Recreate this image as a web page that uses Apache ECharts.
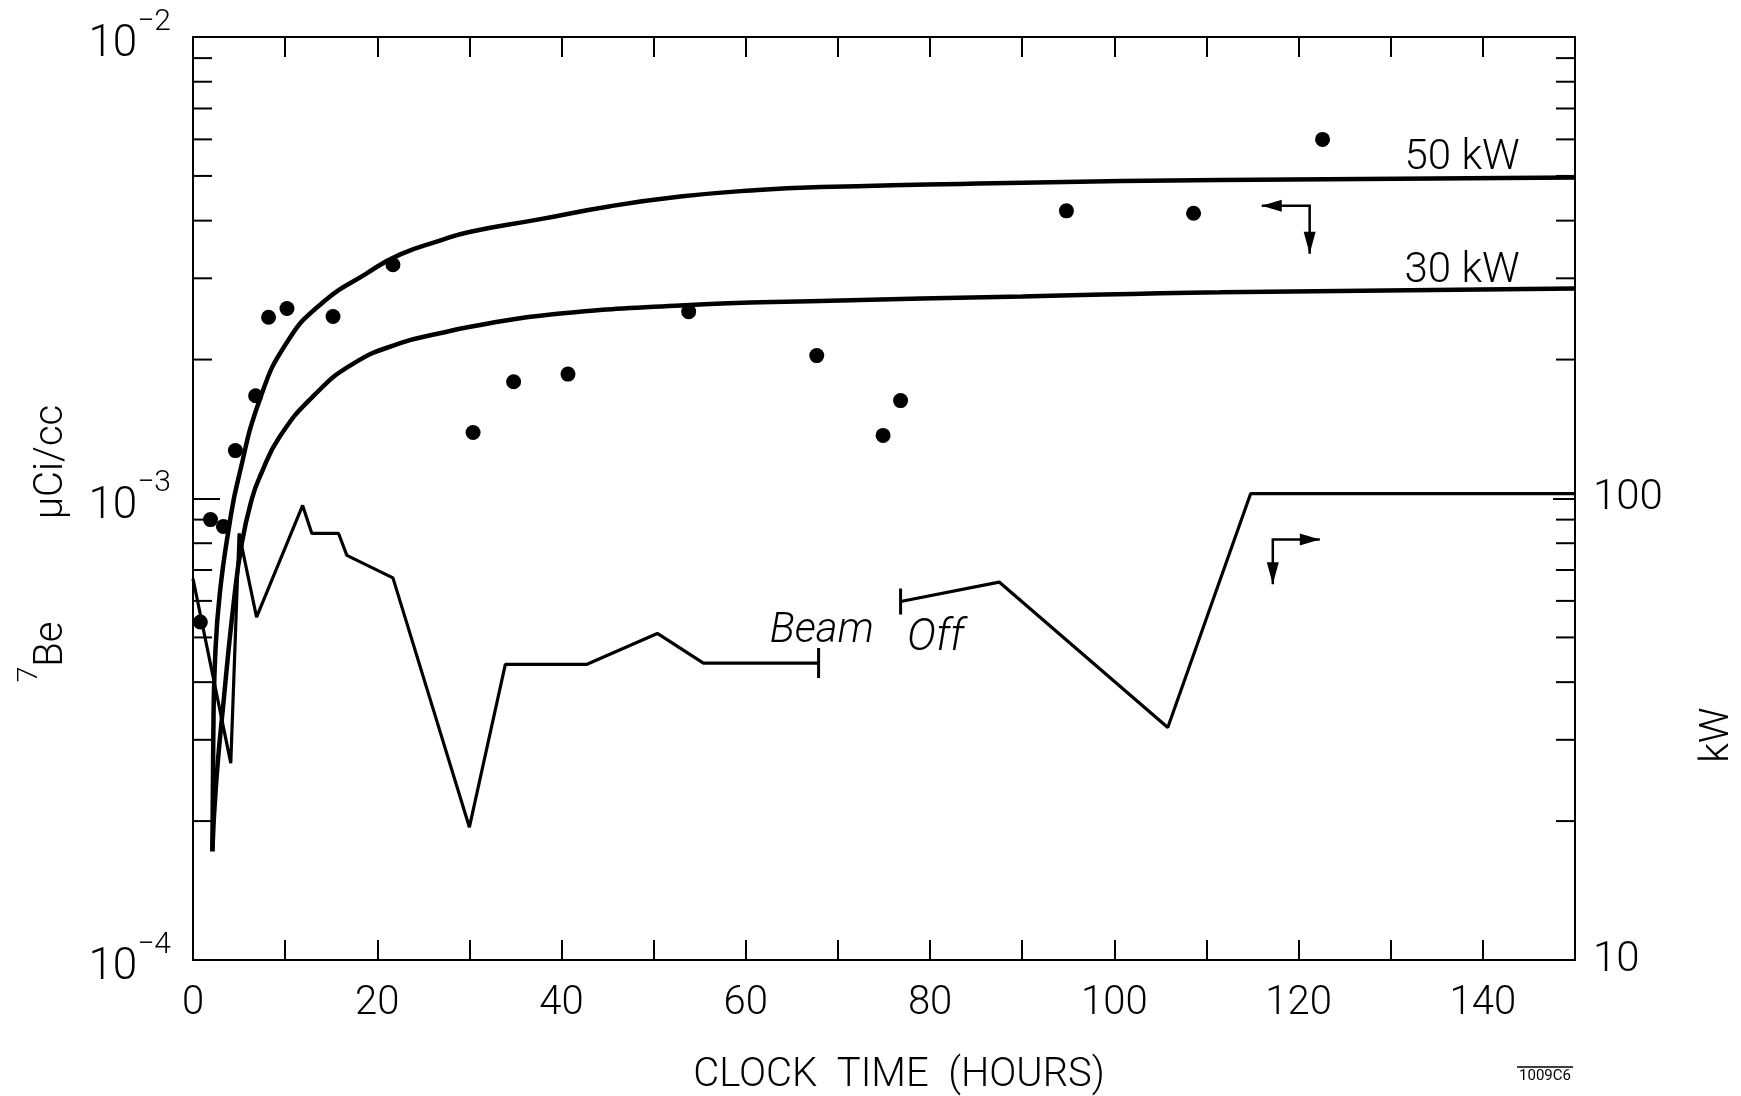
<!DOCTYPE html>
<html><head><meta charset="utf-8">
<script src="https://cdn.jsdelivr.net/npm/echarts@6/dist/echarts.min.js"></script>
<style>html,body{margin:0;padding:0;background:#fff}#c{width:1741px;height:1096px}</style>
</head><body><div id="c"></div>
<script>
// ---- data ----
const scatterHours = [0.8, 1.9, 3.3, 4.6, 6.8, 8.2, 10.2, 15.2, 21.7, 30.4, 34.8, 40.7, 53.8, 67.7, 74.9, 76.8, 94.8, 108.6, 122.6];
const scatterBe7   = [5.4e-4, 9.0e-4, 8.7e-4, 1.27e-3, 1.67e-3, 2.47e-3, 2.58e-3, 2.48e-3, 3.21e-3, 1.39e-3, 1.79e-3, 1.86e-3, 2.54e-3, 2.04e-3, 1.37e-3, 1.63e-3, 4.2e-3, 4.15e-3, 6.0e-3];

const curve50Hours = [2.1, 2.2, 2.4, 2.9, 4.0, 4.9, 7.3, 10.2, 13.8, 18.9, 22.5, 26.8, 30.0, 37.7, 45.3, 52.9, 60.5, 68.1, 90, 111.5, 150];
const curve50Be7   = [1.72e-4, 3.0e-4, 4.5e-4, 6.2e-4, 8.9e-4, 1.10e-3, 1.65e-3, 2.18e-3, 2.63e-3, 3.08e-3, 3.38e-3, 3.62e-3, 3.78e-3, 4.03e-3, 4.30e-3, 4.51e-3, 4.65e-3, 4.73e-3, 4.83e-3, 4.90e-3, 4.96e-3];

const curve30Hours = [2.1, 2.5, 3.3, 4.4, 5.3, 6.4, 7.3, 9.4, 13.1, 17.4, 22.5, 26.8, 30.1, 37.7, 52.9, 68.1, 90, 111.5, 150];
const curve30Be7   = [1.72e-4, 2.4e-4, 3.6e-4, 5.9e-4, 8.0e-4, 1.0e-3, 1.12e-3, 1.36e-3, 1.67e-3, 1.96e-3, 2.17e-3, 2.28e-3, 2.355e-3, 2.49e-3, 2.62e-3, 2.68e-3, 2.74e-3, 2.80e-3, 2.85e-3];

const beamHoursA = [0, 4.1, 5.0, 6.9, 11.9, 12.9, 15.8, 16.7, 21.7, 30.0, 33.9, 42.7, 50.4, 55.4, 67.9];
const beamKwA    = [67, 26.7, 84, 55.3, 96.6, 84, 84, 75.3, 67.3, 19.4, 43.7, 43.7, 51, 44, 44];
const beamHoursB = [76.8, 87.5, 105.8, 114.8, 150];
const beamKwB    = [59.8, 65.9, 31.9, 102.5, 102.5];

const xTickLabels = [0, 20, 40, 60, 80, 100, 120, 140];
const leftMinorTicks = [2e-4,3e-4,4e-4,5e-4,6e-4,7e-4,8e-4,9e-4,2e-3,3e-3,4e-3,5e-3,6e-3,7e-3,8e-3,9e-3];
const rightMinorTicks = [20,30,40,50,60,70,80,90,200,300,400,500,600,700,800,900];

// ---- chart ----
const FONT = 'Roboto';
const chart = echarts.init(document.getElementById('c'), null, {renderer: 'canvas'});

const axisLineStyle = {color: '#000', width: 2};

function zip(a, b) { return a.map((v, i) => [v, b[i]]); }

function tickSeries(values, yIdx, xAt, dir, len) {
  return {
    type: 'custom', xAxisIndex: 0, yAxisIndex: yIdx, silent: true, clip: false, z: 5,
    data: values.map(v => [xAt, v]),
    renderItem: function (params, api) {
      const p = api.coord([api.value(0), api.value(1)]);
      return {type: 'line', shape: {x1: p[0], y1: p[1], x2: p[0] + dir * len, y2: p[1]},
              style: {stroke: '#000', lineWidth: 2}};
    }
  };
}

const beamA = beamHoursA.map((h, i) => i === beamHoursA.length - 1
  ? {value: [h, beamKwA[i]], symbol: 'rect', symbolSize: [3, 30]}
  : {value: [h, beamKwA[i]], symbol: 'none'});
const beamB = beamHoursB.map((h, i) => i === 0
  ? {value: [h, beamKwB[i]], symbol: 'rect', symbolSize: [3, 26]}
  : {value: [h, beamKwB[i]], symbol: 'none'});

chart.setOption({
  animation: false,
  backgroundColor: '#fff',
  grid: {left: 193, right: 166, top: 37, bottom: 136, containLabel: false},
  xAxis: [{
    type: 'value', min: 0, max: 150, interval: 10, position: 'bottom',
    axisLine: {show: true, onZero: false, lineStyle: axisLineStyle},
    axisTick: {show: true, inside: true, length: 20, lineStyle: {color: '#000', width: 2}},
    axisLabel: {
      color: '#000', fontFamily: FONT, fontWeight: 300, fontSize: 40, margin: 24,
      formatter: v => xTickLabels.indexOf(v) >= 0 ? String(v) : ''
    },
    splitLine: {show: false}
  }, {
    type: 'value', min: 0, max: 150, interval: 10, position: 'top',
    axisLine: {show: true, onZero: false, lineStyle: axisLineStyle},
    axisTick: {show: true, inside: true, length: 20, lineStyle: {color: '#000', width: 2}},
    axisLabel: {show: false}, splitLine: {show: false}
  }],
  yAxis: [{
    type: 'log', logBase: 10, min: 1e-4, max: 1e-2, position: 'left',
    axisLine: {show: true, onZero: false, lineStyle: axisLineStyle},
    axisTick: {show: true, inside: true, length: 27, lineStyle: {color: '#000', width: 2}},
    axisLabel: {
      color: '#000', margin: 22, fontFamily: FONT, fontWeight: 300,
      formatter: v => '{b|10}{s|\u2212' + Math.round(-Math.log10(v)) + '}',
      rich: {
        b: {fontFamily: FONT, fontWeight: 300, fontSize: 44, lineHeight: 60, color: '#000', verticalAlign: 'bottom'},
        s: {fontFamily: FONT, fontWeight: 300, fontSize: 30, lineHeight: 30, color: '#000', verticalAlign: 'top'}
      }
    },
    splitLine: {show: false}
  }, {
    type: 'log', logBase: 10, min: 10, max: 1000, position: 'right',
    axisLine: {show: true, onZero: false, lineStyle: axisLineStyle},
    axisTick: {show: true, inside: true, length: 22, lineStyle: {color: '#000', width: 2}},
    axisLabel: {
      color: '#000', margin: 18, fontFamily: FONT, fontWeight: 300, fontSize: 42,
      formatter: v => v >= 999 ? '' : String(Math.round(v))
    },
    splitLine: {show: false}
  }],
  series: [
    {
      name: '50 kW', type: 'line', xAxisIndex: 0, yAxisIndex: 0,
      data: zip(curve50Hours, curve50Be7), smooth: 0.5,
      symbol: 'none', lineStyle: {color: '#000', width: 4.5}, z: 3
    },
    {
      name: '30 kW', type: 'line', xAxisIndex: 0, yAxisIndex: 0,
      data: zip(curve30Hours, curve30Be7), smooth: 0.5,
      symbol: 'none', lineStyle: {color: '#000', width: 4.5}, z: 3
    },
    {
      name: 'beam A', type: 'line', xAxisIndex: 0, yAxisIndex: 1,
      data: beamA, showAllSymbol: true, symbol: 'none',
      itemStyle: {color: '#000', opacity: 1}, lineStyle: {color: '#000', width: 3.2}, z: 3
    },
    {
      name: 'beam B', type: 'line', xAxisIndex: 0, yAxisIndex: 1,
      data: beamB, showAllSymbol: true, symbol: 'none',
      itemStyle: {color: '#000', opacity: 1}, lineStyle: {color: '#000', width: 3.2}, z: 3
    },
    {
      name: '7Be', type: 'scatter', xAxisIndex: 0, yAxisIndex: 0,
      data: zip(scatterHours, scatterBe7), symbol: 'circle', symbolSize: 15,
      itemStyle: {color: '#000', opacity: 1}, z: 4
    },
    tickSeries(leftMinorTicks, 0, 0, 1, 19),
    tickSeries(rightMinorTicks, 1, 150, -1, 19)
  ]
});

// ---- annotations (positioned through the chart's own scales) ----
function P(yIdx, t, v) { return chart.convertToPixel({xAxisIndex: 0, yAxisIndex: yIdx}, [t, v]); }

function arrowHead(tip, from, len, half) {
  const dx = tip[0] - from[0], dy = tip[1] - from[1];
  const d = Math.hypot(dx, dy), ux = dx / d, uy = dy / d;
  const bx = tip[0] - ux * len, by = tip[1] - uy * len;
  return {type: 'polygon', shape: {points: [tip, [bx - uy * half, by + ux * half], [bx + uy * half, by - ux * half]]},
          style: {fill: '#000'}, z: 10};
}

const g = [];
// arrow pointing to left axis
{
  const c = P(0, 121.2, 4.31e-3), l = P(0, 116.0, 4.31e-3), d = P(0, 121.2, 3.39e-3);
  g.push({type: 'polyline', shape: {points: [l, c, d]}, style: {stroke: '#000', lineWidth: 2.5, fill: null}, z: 10});
  g.push(arrowHead(l, c, 20, 6));
  g.push(arrowHead(d, c, 22, 6));
}
// arrow pointing to right axis
{
  const c = P(1, 117.2, 81.5), r = P(1, 122.3, 81.5), d = P(1, 117.2, 65.2);
  g.push({type: 'polyline', shape: {points: [d, c, r]}, style: {stroke: '#000', lineWidth: 2.5, fill: null}, z: 10});
  g.push(arrowHead(r, c, 20, 6));
  g.push(arrowHead(d, c, 22, 6));
}
function txt(text, x, y, size, extra) {
  return Object.assign({type: 'text', x: x, y: y, z: 10,
    style: Object.assign({text: text, fill: '#000', font: '300 ' + size + 'px ' + FONT, align: 'left', verticalAlign: 'middle'}, extra || {})});
}
const l50 = P(0, 131.5, 5.45e-3);
const l30 = P(0, 131.5, 3.1e-3);
g.push(txt('50 kW', l50[0], l50[1], 42));
g.push(txt('30 kW', l30[0], l30[1], 42));
const pBeam = P(1, 62.6, 51.5);
const pOff = P(1, 77.5, 49.5);
g.push({type: 'text', x: pBeam[0], y: pBeam[1], z: 10,
  style: {text: 'Beam', fill: '#000', font: 'italic 300 42px ' + FONT, align: 'left', verticalAlign: 'middle'}});
g.push({type: 'text', x: pOff[0], y: pOff[1], z: 10,
  style: {text: 'Off', fill: '#000', font: 'italic 300 44px ' + FONT, align: 'left', verticalAlign: 'middle'}});

// axis titles
g.push({type: 'text', x: 899, y: 1076, z: 10,
  style: {text: 'CLOCK  TIME  (HOURS)', fill: '#000', font: '300 40px ' + FONT, align: 'center', verticalAlign: 'middle'}});
g.push({type: 'text', x: 44, y: 652, rotation: Math.PI / 2, z: 10,
  style: {text: '{s|7}{n|Be}', align: 'center', verticalAlign: 'middle',
    rich: {s: {fontFamily: FONT, fontWeight: 300, fontSize: 28, lineHeight: 28, verticalAlign: 'top', fill: '#000'},
           n: {fontFamily: FONT, fontWeight: 300, fontSize: 40, lineHeight: 56, verticalAlign: 'bottom', fill: '#000'}}}});
g.push({type: 'text', x: 52, y: 462, rotation: Math.PI / 2, z: 10,
  style: {text: '\u03bcCi/cc', fill: '#000', font: '300 40px ' + FONT, align: 'center', verticalAlign: 'middle'}});
g.push({type: 'text', x: 1718, y: 735, rotation: Math.PI / 2, z: 10,
  style: {text: 'kW', fill: '#000', font: '300 40px ' + FONT, align: 'center', verticalAlign: 'middle'}});
// figure code
g.push({type: 'text', x: 1545, y: 1076, z: 10,
  style: {text: '1009C6', fill: '#000', font: '15px ' + FONT, align: 'center', verticalAlign: 'middle'}});
g.push({type: 'line', shape: {x1: 1517, y1: 1067, x2: 1573, y2: 1067}, style: {stroke: '#000', lineWidth: 1.5}, z: 10});

chart.setOption({graphic: g});
</script></body></html>
